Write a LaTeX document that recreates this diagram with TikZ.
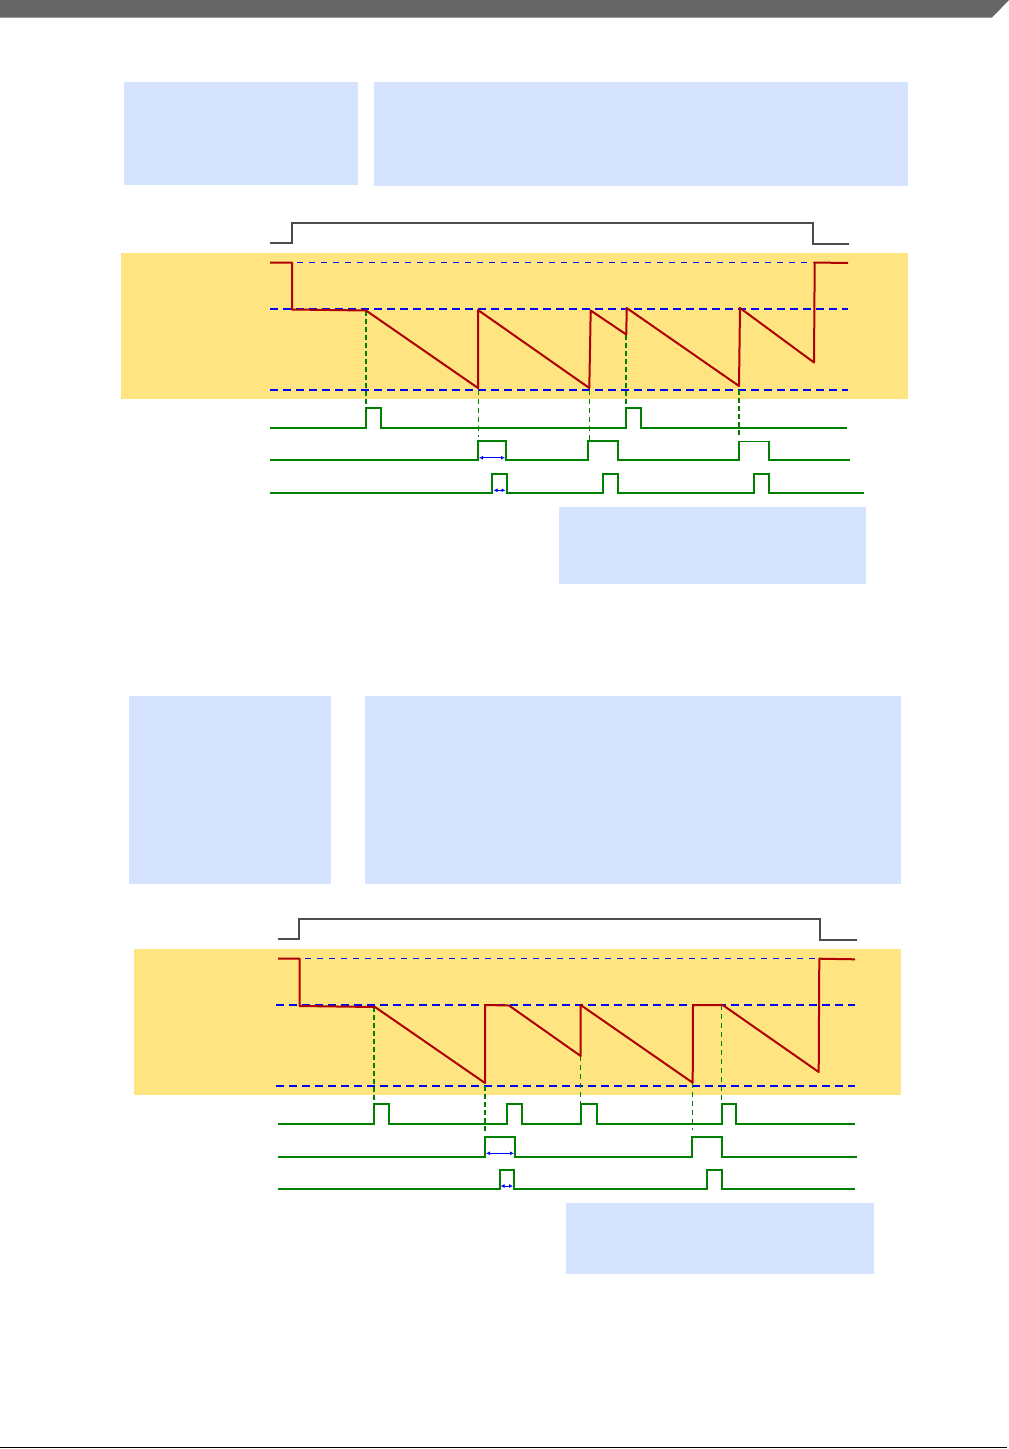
\documentclass[tikz,border=0pt]{standalone}
\usetikzlibrary{arrows.meta}
\definecolor{BarClr}{rgb}{0.4,0.4,0.4}
\definecolor{NoteClr}{rgb}{0.835,0.89,0.996}
\definecolor{BandClr}{rgb}{1,0.898,0.506}
\definecolor{SawClr}{rgb}{0.69,0,0}
\definecolor{EnClr}{rgb}{0.3,0.3,0.3}
\definecolor{PulseClr}{rgb}{0,0.5,0}
\definecolor{LevelClr}{rgb}{0,0,1}

\begin{document}
\begin{tikzpicture}[x=1pt,y=-1pt,
  enline/.style={EnClr,line width=2pt},
  sawline/.style={SawClr,line width=2pt,line join=round},
  pulseline/.style={PulseClr,line width=1.7pt},
  hiline/.style={LevelClr,line width=1.2pt,dash pattern=on 6pt off 6pt},
  lvline/.style={LevelClr,line width=2.2pt,dash pattern=on 8pt off 5pt},
  markA/.style={PulseClr,line width=2pt,dash pattern=on 5pt off 3pt},
  markB/.style={PulseClr,line width=1.1pt,dash pattern=on 5pt off 4pt},
  twin/.style={LevelClr,line width=1pt,{Latex[length=4pt,width=4pt]}-{Latex[length=4pt,width=4pt]}}]
\useasboundingbox (0,0) rectangle (1009,1449);

% page head and foot
\fill[BarClr] (0,0) -- (1009,0) -- (992,17.5) -- (0,17.5) -- cycle;
\draw[line width=1.5pt] (0,1447.5) -- (1007,1447.5);

% first chart
\fill[NoteClr] (124,82) rectangle (358,185);
\fill[NoteClr] (374,82) rectangle (908,186);
\fill[BandClr] (121,253) rectangle (908,399);
\fill[NoteClr] (559,507) rectangle (866,584);

\draw[enline] (270,243) -- (292,243) -- (292,223) -- (813,223) -- (813,243.5) -- (849,243.5);

\draw[hiline] (297,262.5) -- (848,262.5);
\draw[lvline] (270,309) -- (848,309);
\draw[lvline] (270,390) -- (848,390);

\draw[markA] (366,311) -- (366,407);
\draw[markB] (478.3,390) -- (478.3,437);
\draw[markB] (589.3,390) -- (589.3,440);
\draw[markA] (626.3,335) -- (626.3,407);
\draw[markA] (739,390) -- (739,437);

\draw[sawline] (270,262.5) -- (292,262.5) -- (292,309.5) -- (366,310.5) -- (478,388) -- (478,310)
  -- (589.3,388) -- (590.7,310.5) -- (626.3,334.5) -- (626.7,308) -- (739,386) -- (740,308)
  -- (814,362.5) -- (814.7,262.5) -- (848,263);

\draw[pulseline] (270,428.3) -- (365.7,428.3) -- (365.7,407.7) -- (381.3,407.7) -- (381.3,428.3)
  -- (626.3,428.3) -- (626.3,407.7) -- (640.7,407.7) -- (640.7,427.7) -- (847.3,427.7);
\draw[pulseline] (270,460.3) -- (477.7,460.3) -- (477.7,440.7) -- (506,440.7) -- (506,460.3)
  -- (588.3,460.3) -- (588.3,441) -- (618.3,441) -- (618.3,460.3) -- (739,460.3) -- (739,441.5)
  -- (768.7,441.5) -- (768.7,460.3) -- (850,460.3);
\draw[pulseline] (270,493.3) -- (492.3,493.3) -- (492.3,474) -- (506.7,474) -- (506.7,493.3)
  -- (603.3,493.3) -- (603.3,474) -- (618.3,474) -- (618.3,493.3) -- (754.3,493.3) -- (754.3,474)
  -- (768.7,474) -- (768.7,493.3) -- (864,493.3);

\coordinate (wA1) at (479,457.7);
\coordinate (wA2) at (505,457.7);
\coordinate (wB1) at (493.5,490.3);
\coordinate (wB2) at (505.5,490.3);
\draw[twin] (wA1) -- (wA2);
\draw[twin] (wB1) -- (wB2);

% second chart
\fill[NoteClr] (129,696) rectangle (331,884);
\fill[NoteClr] (365,696) rectangle (901,884);
\fill[BandClr] (134,949) rectangle (901,1095);
\fill[NoteClr] (566,1203) rectangle (874,1274);

\draw[enline] (278,939) -- (299.3,939) -- (299.3,919) -- (820,919) -- (820,940) -- (857,940);

\draw[hiline] (305,958.3) -- (855,958.3);
\draw[lvline] (276,1005) -- (855,1005);
\draw[lvline] (276,1085.7) -- (855,1085.7);

\draw[markA] (374,1007) -- (374,1103);
\draw[markA] (485,1086) -- (485,1131);
\draw[markB] (580.7,1056) -- (580.7,1103);
\draw[markB] (692.3,1083) -- (692.3,1130);
\draw[markB] (721.7,1005) -- (721.7,1103);

\draw[sawline] (278,958.7) -- (299.7,958.7) -- (299.7,1006) -- (375,1007) -- (485,1083) -- (485,1005)
  -- (509,1005.5) -- (580.7,1056) -- (580.7,1005) -- (692.7,1082.7) -- (693,1005) -- (722.7,1005)
  -- (818.7,1072) -- (819.3,958.7) -- (855,959.3);

\draw[pulseline] (278,1124.3) -- (374,1124.3) -- (374,1103.7) -- (389,1103.7) -- (389,1124.3)
  -- (506.7,1124.3) -- (506.7,1103.7) -- (522.3,1103.7) -- (522.3,1124.3) -- (581.3,1124.3)
  -- (581.3,1103.7) -- (597,1103.7) -- (597,1124.3) -- (722,1124.3) -- (722,1103.7)
  -- (736.3,1103.7) -- (736.3,1124.3) -- (854.7,1124.3);
\draw[pulseline] (278,1156.7) -- (485,1156.7) -- (485,1137) -- (514.7,1137) -- (514.7,1156.7)
  -- (692,1156.7) -- (692,1137) -- (722.3,1137) -- (722.3,1156.7) -- (856.7,1156.7);
\draw[pulseline] (278,1189) -- (499.7,1189) -- (499.7,1169.7) -- (514,1169.7) -- (514,1189)
  -- (707,1189) -- (707,1169.7) -- (722.3,1169.7) -- (722.3,1189) -- (855,1189);

\coordinate (wC1) at (486,1153.3);
\coordinate (wC2) at (514,1153.3);
\coordinate (wD1) at (500.5,1186);
\coordinate (wD2) at (513,1186);
\draw[twin] (wC1) -- (wC2);
\draw[twin] (wD1) -- (wD2);

\end{tikzpicture}
\end{document}
